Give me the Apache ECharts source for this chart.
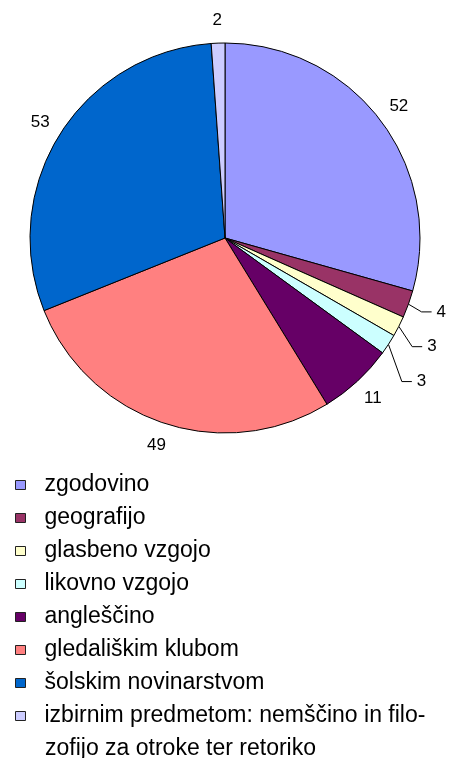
<!DOCTYPE html>
<html>
<head>
<meta charset="utf-8">
<script src="https://cdn.jsdelivr.net/npm/echarts@6/dist/echarts.min.js"></script>
<style>
  html, body { margin: 0; padding: 0; background: #fff; }
  #chart { width: 452px; height: 758px; }
</style>
</head>
<body>
<div id="chart"></div>
<script>
// podatki
var categories = [
  'zgodovino',
  'geografijo',
  'glasbeno vzgojo',
  'likovno vzgojo',
  'angleščino',
  'gledališkim klubom',
  'šolskim novinarstvom',
  'izbirnim predmetom: nemščino in filo-'
]
var values = [52, 4, 3, 3, 11, 49, 53, 2]
var colors = ['#9999FF', '#993366', '#FFFFCC', '#CCFFFF', '#660066', '#FF8080', '#0066CC', '#CCCCFF']
var lastLine = 'zofijo za otroke ter retoriko'

var pieCenter = [225, 238]
// majhni deli dobijo črto do oznake: [length, length2, pomik navzdol]
var smallLabel = { 1: [14, 10, 3], 2: [15, 10, 13.5], 3: [16, 10, 28.5] }

var chart = echarts.init(document.getElementById('chart'))

var pieData = categories.map(function (name, i) {
  var item = { name: name, value: values[i], itemStyle: { color: colors[i] } }
  if (smallLabel[i]) {
    item.labelLine = { show: true, length: smallLabel[i][0], length2: smallLabel[i][1] }
    item.label = { distanceToLabelLine: 5 }
  }
  return item
})

var option = {
  animation: false,
  backgroundColor: '#fff',
  legend: {
    orient: 'vertical',
    left: 10,
    top: 468,
    itemWidth: 10,
    itemHeight: 9,
    itemGap: 9,
    icon: 'rect',
    itemStyle: { borderColor: '#222', borderWidth: 1 },
    textStyle: { fontFamily: 'Liberation Sans', fontSize: 23, lineHeight: 24, color: '#000', padding: [0, 0, 0, 14] },
    data: categories
  },
  graphic: [{
    type: 'text',
    left: 45,
    top: 737,
    style: { text: lastLine, font: '23px "Liberation Sans"', fill: '#000' }
  }],
  series: [{
    type: 'pie',
    center: pieCenter,
    radius: 195,
    startAngle: 90,
    clockwise: true,
    avoidLabelOverlap: false,
    itemStyle: { borderColor: '#000', borderWidth: 1 },
    label: {
      show: true,
      position: 'outside',
      formatter: '{c}',
      distanceToLabelLine: 0,
      fontFamily: 'Liberation Sans',
      fontSize: 17,
      color: '#000'
    },
    labelLine: { show: false, length: 23, length2: 0, lineStyle: { color: '#000', width: 1 } },
    labelLayout: function (p) {
      var r = p.labelRect
      var s = smallLabel[p.dataIndex]
      if (s) {
        // oznako premaknemo navzdol, črta se zalomi kot v Excelu
        var pts = p.labelLinePoints
        var ny = r.y + r.height / 2 + s[2]
        return {
          y: ny,
          labelLinePoints: [pts[0], [pts[1][0], ny], [pts[2][0], ny]]
        }
      }
      var onRight = r.x + r.width / 2 > pieCenter[0]
      return { dx: onRight ? -r.width / 2 : r.width / 2 }
    },
    emphasis: { disabled: true },
    data: pieData
  }]
}
chart.setOption(option)
</script>
</body>
</html>
